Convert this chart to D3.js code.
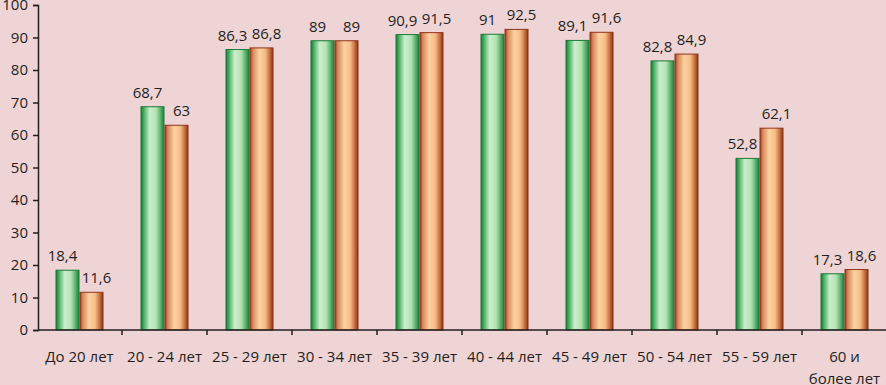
<!DOCTYPE html>
<html>
<head>
<meta charset="utf-8">
<script src="https://cdn.jsdelivr.net/npm/d3@7"></script>
<style>
  html, body { margin: 0; padding: 0; background: #efd4d6; }
  svg { display: block; }
</style>
</head>
<body>
<div id="chart"></div>
<script>
// Возрастные группы и два ряда значений (зелёный / оранжевый)
const categories = ['До 20 лет', '20 - 24 лет', '25 - 29 лет', '30 - 34 лет', '35 - 39 лет',
  '40 - 44 лет', '45 - 49 лет', '50 - 54 лет', '55 - 59 лет', '60 и|более лет'];
const seriesGreen = [18.4, 68.7, 86.3, 89, 90.9, 91, 89.1, 82.8, 52.8, 17.3];
const seriesOrange = [11.6, 63, 86.8, 89, 91.5, 92.5, 91.6, 84.9, 62.1, 18.6];
const yTicks = [0, 10, 20, 30, 40, 50, 60, 70, 80, 90, 100];

const WIDTH = 886, HEIGHT = 385;
const margin = { top: 5, right: 0, bottom: 55, left: 38 };
const FONT = '"Open Sans", "DejaVu Sans", sans-serif';
const FONT_SIZE = 15;
const TEXT = '#231f20';

const svg = d3.select('#chart').append('svg').attr('width', WIDTH).attr('height', HEIGHT);

// Цилиндрические градиенты для столбиков
const defs = svg.append('defs');
const gradients = {
  green: [['0%', '#17773a'], ['14%', '#4fb266'], ['38%', '#cdeecd'], ['66%', '#b2e2b2'], ['88%', '#4ea862'], ['100%', '#1f7d3b']],
  orange: [['0%', '#963a1f'], ['12%', '#d8875a'], ['40%', '#fcd2a2'], ['66%', '#f8bc86'], ['86%', '#c4703f'], ['100%', '#8a3119']],
};
Object.entries(gradients).forEach(([name, stops]) => {
  const g = defs.append('linearGradient').attr('id', `grad-${name}`).attr('x1', 0).attr('x2', 1).attr('y1', 0).attr('y2', 0);
  stops.forEach(([offset, color]) => g.append('stop').attr('offset', offset).attr('stop-color', color));
});

const x = d3.scaleBand().domain(categories).range([margin.left - 1, WIDTH + 1]).paddingInner(0).paddingOuter(0);
const groupWidth = x.bandwidth() * 0.565;
const sub = d3.scaleBand().domain(['green', 'orange']).range([(x.bandwidth() - groupWidth) / 2, (x.bandwidth() + groupWidth) / 2]);
const y = d3.scaleLinear().domain([0, 100]).range([HEIGHT - margin.bottom, margin.top]);

const rows = categories.map((cat, i) => ({ cat, green: seriesGreen[i], orange: seriesOrange[i] }));

// Столбики
const groups = svg.append('g').selectAll('g').data(rows).join('g')
  .attr('transform', d => `translate(${x(d.cat)},0)`);

['green', 'orange'].forEach(key => {
  const edge = key === 'green' ? '#1e7a38' : '#8f3519';
  groups.append('rect')
    .attr('x', sub(key) + 0.5).attr('width', sub.bandwidth() - 1)
    .attr('y', d => y(d[key])).attr('height', d => y(0) - y(d[key]))
    .attr('fill', `url(#grad-${key})`).attr('stroke', edge).attr('stroke-width', 1);

  // Подписи значений: слегка разведены в стороны, чтобы не наползали
  const dx = key === 'green' ? -5 : 5;
  groups.append('text')
    .attr('x', sub(key) + sub.bandwidth() / 2 + dx).attr('y', d => y(d[key]) - 9)
    .attr('text-anchor', 'middle').attr('font-family', FONT).attr('font-size', FONT_SIZE).attr('fill', TEXT)
    .text(d => String(d[key]).replace('.', ','));
});

// Ось Y
const yAxis = svg.append('g').attr('transform', `translate(${margin.left},0)`)
  .call(d3.axisLeft(y).tickValues(yTicks).tickSize(5).tickPadding(5));
yAxis.select('.domain').attr('stroke', TEXT).attr('stroke-width', 1.5);
yAxis.selectAll('.tick line').attr('stroke', TEXT).attr('stroke-width', 1.5);
yAxis.selectAll('text').attr('font-family', FONT).attr('font-size', FONT_SIZE).attr('fill', TEXT);

// Ось X: метки на границах категорий
const xAxisG = svg.append('g').attr('transform', `translate(0,${y(0)})`);
xAxisG.append('line').attr('x1', margin.left).attr('x2', WIDTH).attr('stroke', TEXT).attr('stroke-width', 1.5);
xAxisG.selectAll('line.tick').data(categories.slice(1)).join('line').attr('class', 'tick')
  .attr('x1', d => x(d)).attr('x2', d => x(d)).attr('y1', 0).attr('y2', 5)
  .attr('stroke', TEXT).attr('stroke-width', 1.5);

xAxisG.selectAll('text.cat').data(categories).join('text').attr('class', 'cat')
  .attr('text-anchor', 'middle').attr('font-family', FONT).attr('font-size', FONT_SIZE).attr('fill', TEXT)
  .attr('transform', d => `translate(${x(d) + x.bandwidth() / 2},32)`)
  .each(function (d) {
    d.split('|').forEach((line, i) => {
      d3.select(this).append('tspan').attr('x', 0).attr('dy', i === 0 ? 0 : 22).text(line);
    });
  });
</script>
</body>
</html>
